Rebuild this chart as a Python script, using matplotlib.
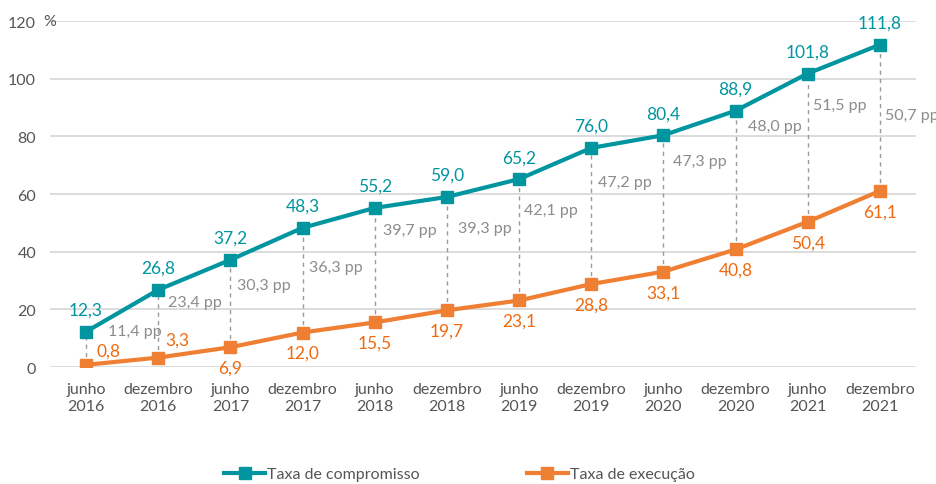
import numpy as np
import matplotlib
matplotlib.use('Agg')
import matplotlib.pyplot as plt

plt.rcParams['font.family'] = ['Lato', 'DejaVu Sans']

# Donnees
periodos = ['junho\n2016', 'dezembro\n2016', 'junho\n2017', 'dezembro\n2017',
            'junho\n2018', 'dezembro\n2018', 'junho\n2019', 'dezembro\n2019',
            'junho\n2020', 'dezembro\n2020', 'junho\n2021', 'dezembro\n2021']
compromisso = [12.3, 26.8, 37.2, 48.3, 55.2, 59.0, 65.2, 76.0, 80.4, 88.9, 101.8, 111.8]
execucao = [0.8, 3.3, 6.9, 12.0, 15.5, 19.7, 23.1, 28.8, 33.1, 40.8, 50.4, 61.1]
diferenca = ['11,4', '23,4', '30,3', '36,3', '39,7', '39,3', '42,1', '47,2',
             '47,3', '48,0', '51,5', '50,7']
# hauteur et decalage des etiquettes "pp"
pp_y = [12.5, 22.5, 28.4, 34.7, 47.5, 48.2, 54.5, 64.2, 71.5, 83.6, 90.9, 87.4]
pp_dx = [0.3, 0.14, 0.09, 0.09, 0.12, 0.16, 0.07, 0.1, 0.13, 0.17, 0.07, 0.07]

teal = '#00959f'
orange = '#ef7f33'
orange_txt = '#f06a10'
cinza = '#8c8c8c'

fig = plt.figure(figsize=(9.37, 4.85), dpi=100)
ax = fig.add_axes([0.0534, 0.241, 0.9242, 0.7136])

x = np.arange(len(periodos))

for i in x:
    ax.plot([i, i], [execucao[i], compromisso[i]], ls=(0, (3, 3)), color='#9a9a9a',
            lw=1, zorder=1)
    ax.text(i + pp_dx[i], pp_y[i], diferenca[i] + ' pp', color=cinza, fontsize=11.5,
            ha='left', va='center')

ax.plot(x, compromisso, color=teal, lw=3, marker='s', ms=8, label='Taxa de compromisso', zorder=3)
ax.plot(x, execucao, color=orange, lw=3, marker='s', ms=8, label='Taxa de execução', zorder=3)

def fmt(v):
    return ('%.1f' % v).replace('.', ',')

decal_exec = {0: (16, 10), 1: (14, 13)}
for i in x:
    ax.annotate(fmt(compromisso[i]), (i, compromisso[i]), xytext=(0, 10),
                textcoords='offset points', ha='center', va='bottom',
                color=teal, fontsize=12.5)
    if i in decal_exec:
        ax.annotate(fmt(execucao[i]), (i, execucao[i]), xytext=decal_exec[i],
                    textcoords='offset points', ha='center', va='center',
                    color=orange_txt, fontsize=12.5)
    else:
        ax.annotate(fmt(execucao[i]), (i, execucao[i]), xytext=(0, -9),
                    textcoords='offset points', ha='center', va='top',
                    color=orange_txt, fontsize=12.5)

ax.set_xlim(-0.5, 11.5)
ax.set_ylim(0, 120)
ax.set_yticks(range(0, 121, 20))
ax.set_xticks(x)
ax.set_xticklabels(periodos, linespacing=1.25)
ax.tick_params(length=0, labelsize=11.5, colors='#555555')
ax.tick_params(axis='y', pad=10)
ax.tick_params(axis='x', pad=11)
ax.text(-0.6, 120, '%', fontsize=11.5, color='#555555', ha='left', va='center')
ax.grid(axis='y', color='#d9d9d9', lw=1.3)
ax.set_axisbelow(True)
for s in ax.spines.values():
    s.set_visible(False)

leg = fig.legend(loc='center', bbox_to_anchor=(0.49, 0.02), ncol=2, frameon=False,
                 fontsize=11.5, columnspacing=6.7, handlelength=2.6, handletextpad=0.1)
for t in leg.get_texts():
    t.set_color('#555555')

fig.savefig('out.png', dpi=100)
